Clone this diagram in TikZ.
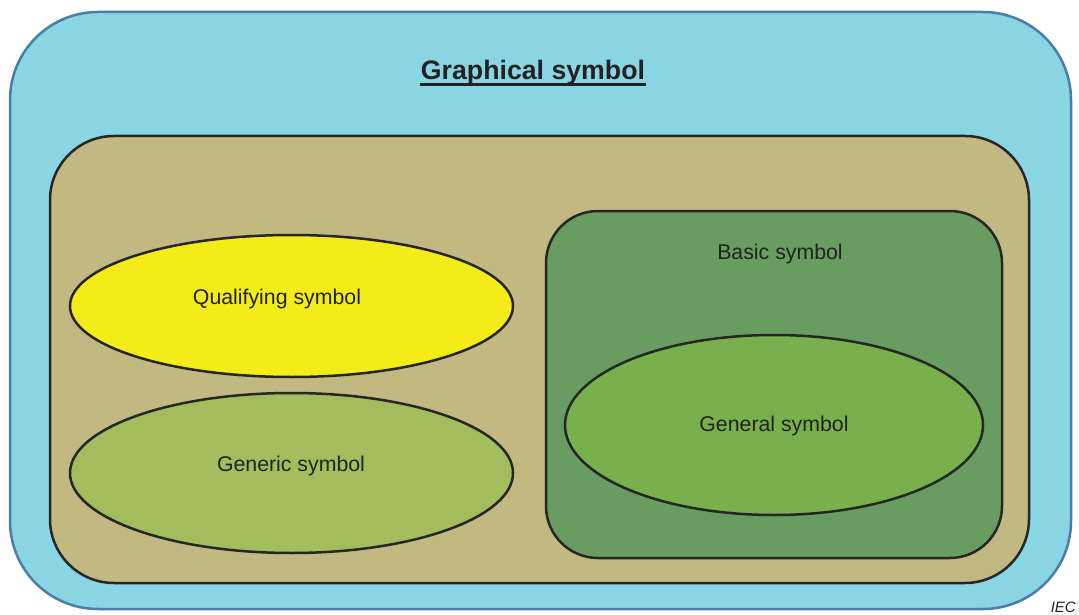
\documentclass[tikz,border=0pt]{standalone}
\usepackage{fontspec}
\setmainfont{Liberation Sans}
\usepackage{tikz}
\usetikzlibrary{shapes.geometric}

\definecolor{skyfill}{HTML}{8AD5E3}
\definecolor{skyline}{HTML}{4A7DA8}
\definecolor{tanfill}{HTML}{C2B882}
\definecolor{basicfill}{HTML}{689C60}
\definecolor{qualfill}{HTML}{F3EC19}
\definecolor{genericfill}{HTML}{A3BC5C}
\definecolor{generalfill}{HTML}{78B04B}
\definecolor{inktext}{HTML}{222222}

\begin{document}
\begin{tikzpicture}[x=1pt,y=-1pt,line width=2.5pt,
  box/.style={draw=black!85,rectangle,inner sep=0,outer sep=0},
  oval/.style={draw=black!85,ellipse,inner sep=0,outer sep=0},
  lbl/.style={text=inktext,font=\fontsize{21.3}{25}\selectfont}]
\useasboundingbox (0,0) rectangle (1079,615);
\node[box,draw=skyline,fill=skyfill,rounded corners=88pt,minimum width=1061pt,minimum height=597pt] (graphical) at (540.5,310.5) {};
\node[box,fill=tanfill,rounded corners=64pt,minimum width=979pt,minimum height=447pt] (group) at (539.5,359.5) {};
\node[box,fill=basicfill,rounded corners=52pt,minimum width=456pt,minimum height=347pt] (basic) at (774,384.5) {};
\node[oval,fill=qualfill,minimum width=443pt,minimum height=142pt] (qual) at (291.5,306) {};
\node[oval,fill=genericfill,minimum width=443pt,minimum height=160pt] (generic) at (291.5,473) {};
\node[oval,fill=generalfill,minimum width=418pt,minimum height=180pt] (general) at (774,425) {};
% labels
\node[text=inktext,font=\fontsize{26.7}{32}\selectfont\bfseries,inner sep=0,anchor=base] (title) at (533,80) {Graphical symbol};
\draw[inktext,line width=3pt] ([yshift=-4.5pt]title.base west) -- ([yshift=-4.5pt]title.base east);
\node[lbl] (quallbl) at (277,299) {Qualifying symbol};
\node[lbl] (genericlbl) at (291,466) {Generic symbol};
\node[lbl] (basiclbl) at (780,254) {Basic symbol};
\node[lbl] (generallbl) at (774,426) {General symbol};
\node[text=inktext,font=\fontsize{15}{18}\selectfont\itshape,anchor=base east,inner sep=0] (iec) at (1077,612) {IEC};
\end{tikzpicture}
\end{document}
